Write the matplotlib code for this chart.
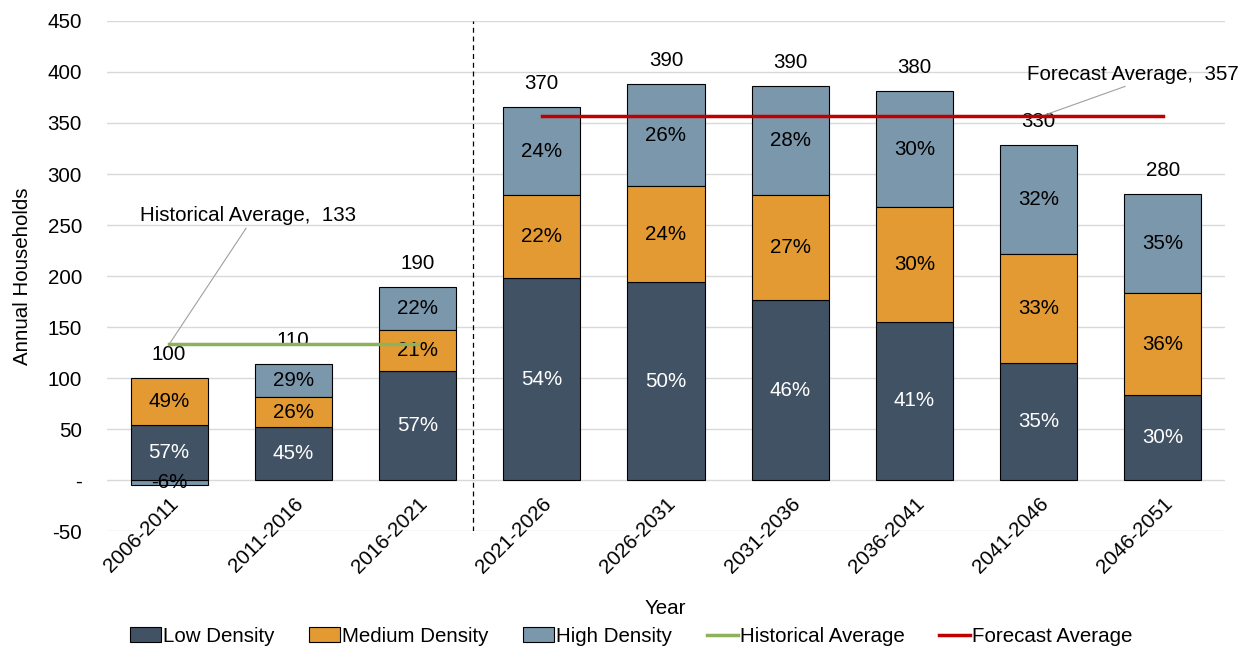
import numpy as np
import matplotlib.pyplot as plt
from matplotlib.patches import Patch
from matplotlib.lines import Line2D

plt.rcParams['font.family'] = ['Liberation Sans', 'DejaVu Sans']
plt.rcParams['font.size'] = 14.8

# data
periods = ['2006-2011', '2011-2016', '2016-2021', '2021-2026', '2026-2031',
           '2031-2036', '2036-2041', '2041-2046', '2046-2051']
low = [54, 52, 107, 198, 194, 176, 155, 115, 83]
medium = [46, 29, 40, 81, 94, 103, 113, 107, 100]
high = [-5, 33, 42, 87, 100, 107, 113, 106, 97]
totals = ['100', '110', '190', '370', '390', '390', '380', '330', '280']
low_pct = ['57%', '45%', '57%', '54%', '50%', '46%', '41%', '35%', '30%']
med_pct = ['49%', '26%', '21%', '22%', '24%', '27%', '30%', '33%', '36%']
high_pct = ['-6%', '29%', '22%', '24%', '26%', '28%', '30%', '32%', '35%']
hist_avg = 133
fcst_avg = 357
n_hist = 3

c_low = '#415264'
c_med = '#E39A32'
c_high = '#7B97AB'
c_hist = '#8DB25A'
c_fcst = '#C00000'

fig = plt.figure(figsize=(12.5, 6.46), dpi=100)
ax = fig.add_axes([0.0856, 0.178, 0.8944, 0.7895])

x = np.arange(len(periods))
low = np.array(low)
medium = np.array(medium)
high = np.array(high)
w = 0.62

ax.bar(x, low, w, color=c_low, edgecolor='black', linewidth=0.8, zorder=2)
ax.bar(x, medium, w, bottom=low, color=c_med, edgecolor='black', linewidth=0.8, zorder=2)
high_bottom = np.where(high < 0, 0, low + medium)
ax.bar(x, high, w, bottom=high_bottom, color=c_high, edgecolor='black', linewidth=0.8, zorder=1.9)

for i in range(len(x)):
    ax.text(x[i], low[i] / 2, low_pct[i], ha='center', va='center', color='white', zorder=3)
    ax.text(x[i], low[i] + medium[i] / 2, med_pct[i], ha='center', va='center', color='black', zorder=3)
    ax.text(x[i], high_bottom[i] + high[i] / 2, high_pct[i], ha='center', va='center', color='black', zorder=3)
    top = low[i] + medium[i] + max(high[i], 0)
    ax.annotate(totals[i], (x[i], top), xytext=(0, 17), textcoords='offset points',
                ha='center', va='center', zorder=3)

# average lines
ax.plot([x[0], x[n_hist - 1]], [hist_avg, hist_avg], color=c_hist, lw=2.5, zorder=4)
ax.plot([x[n_hist], x[-1]], [fcst_avg, fcst_avg], color=c_fcst, lw=2.5, zorder=4)

ax.annotate('Historical Average,  %d' % hist_avg, xy=(x[0], hist_avg), xytext=(0.635, 259),
            ha='center', va='center',
            arrowprops=dict(arrowstyle='-', color='#A0A0A0', lw=0.8, shrinkA=0, shrinkB=0, relpos=(0.5, 0)))
ax.annotate('Forecast Average,  %d' % fcst_avg, xy=(7.03, fcst_avg), xytext=(7.76, 398),
            ha='center', va='center',
            arrowprops=dict(arrowstyle='-', color='#A0A0A0', lw=0.8, shrinkA=0, shrinkB=0, relpos=(0.5, 0)))

# split between history and forecast
ax.axvline(2.45, color='black', lw=0.9, ls=(0, (4, 3)), zorder=1)

ax.set_xlim(-0.5, len(periods) - 0.5)
ax.set_ylim(-50, 450)
yt = np.arange(-50, 451, 50)
ax.set_yticks(yt)
ax.set_yticklabels(['-' if v == 0 else str(v) for v in yt])
ax.yaxis.grid(True, color='#D9D9D9', lw=1, zorder=0)
ax.set_axisbelow(True)
for s in ax.spines.values():
    s.set_visible(False)
ax.spines['bottom'].set_position(('data', 0))
ax.tick_params(length=0)
ax.tick_params(axis='y', pad=18)
ax.set_xticks(x)
ax.set_xticklabels(periods, rotation=45, ha='right', rotation_mode='anchor')
ax.tick_params(axis='x', pad=10)
ax.set_ylabel('Annual Households', labelpad=11)

fig.text(0.532, 0.058, 'Year', ha='center', va='center')

handles = [Patch(facecolor=c_low, edgecolor='black', lw=0.8),
           Patch(facecolor=c_med, edgecolor='black', lw=0.8),
           Patch(facecolor=c_high, edgecolor='black', lw=0.8),
           Line2D([], [], color=c_hist, lw=2.5),
           Line2D([], [], color=c_fcst, lw=2.5)]
names = ['Low Density', 'Medium Density', 'High Density', 'Historical Average', 'Forecast Average']
fig.legend(handles, names, loc='center', bbox_to_anchor=(0.505, 0.015), ncol=5, frameon=False,
           handlelength=1.5, handleheight=0.7, handletextpad=0.1, columnspacing=1.7,
           borderaxespad=0, borderpad=0)

fig.savefig('out.png', dpi=100)
